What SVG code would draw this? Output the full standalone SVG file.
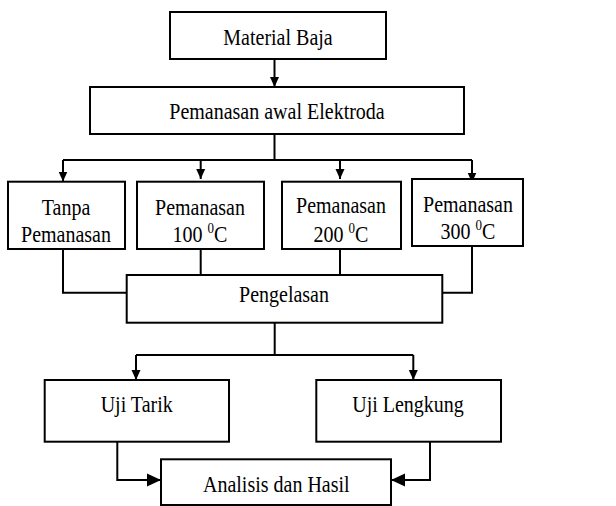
<svg xmlns="http://www.w3.org/2000/svg" width="616" height="506" viewBox="0 0 616 506">
<style>
.box{fill:#fff;stroke:#000;stroke-width:2}
.ln{fill:none;stroke:#000;stroke-width:2}
text{font-family:"Liberation Serif","Times New Roman",serif;font-size:20px;fill:#000;text-anchor:middle}
.sup{font-size:13px}
</style>
<defs>
<marker id="ah" markerUnits="userSpaceOnUse" markerWidth="10" markerHeight="10" refX="10" refY="5" orient="auto">
<path d="M0,0.5 L10,5 L0,9.5 Z" fill="#000"/>
</marker>
<marker id="ahb" markerUnits="userSpaceOnUse" markerWidth="14" markerHeight="14" refX="14" refY="7" orient="auto">
<path d="M0,0.5 L14,7 L0,13.5 Z" fill="#000"/>
</marker>
</defs>
<g id="connectors">
<path class="ln" d="M274.5,59 V87" marker-end="url(#ah)"/>
<path class="ln" d="M274.5,134 V160"/>
<path class="ln" d="M63,160 H472"/>
<path class="ln" d="M63,160 V181.5" marker-end="url(#ah)"/>
<path class="ln" d="M200.7,160 V179" marker-end="url(#ah)"/>
<path class="ln" d="M340,160 V179" marker-end="url(#ah)"/>
<path class="ln" d="M472,160 V182.5" marker-end="url(#ah)"/>
<path class="ln" d="M63,249 V292.7 H126.7"/>
<path class="ln" d="M200.7,249 V275"/>
<path class="ln" d="M340,249 V275"/>
<path class="ln" d="M472,246 V292.7 H442.3"/>
<path class="ln" d="M274.7,322.7 V355"/>
<path class="ln" d="M136,355 H413.3"/>
<path class="ln" d="M136,355 V380" marker-end="url(#ah)"/>
<path class="ln" d="M413.3,355 V380" marker-end="url(#ah)"/>
<path class="ln" d="M117.3,441.7 V480 H161" marker-end="url(#ahb)"/>
<path class="ln" d="M430,441.7 V480 H391" marker-end="url(#ahb)"/>
</g>
<g id="material-baja">
<rect class="box" x="170" y="12" width="216" height="47"/>
<text transform="translate(278,45) scale(1,1.15)">Material Baja</text>
</g>
<g id="pemanasan-awal">
<rect class="box" x="90" y="87" width="374" height="47"/>
<text transform="translate(277,119.3) scale(1,1.15)">Pemanasan awal Elektroda</text>
</g>
<g id="tanpa">
<rect class="box" x="8" y="181.7" width="117" height="67.3"/>
<text transform="translate(66,215) scale(1,1.15)">Tanpa</text>
<text transform="translate(66,241.7) scale(1,1.15)">Pemanasan</text>
</g>
<g id="p100">
<rect class="box" x="137" y="181.7" width="127" height="67.3"/>
<text transform="translate(200,215) scale(1,1.15)">Pemanasan</text>
<text transform="translate(200,241.7) scale(1,1.15)">100 <tspan class="sup" dy="-8">0</tspan><tspan dy="8">C</tspan></text>
</g>
<g id="p200">
<rect class="box" x="282" y="181.7" width="119" height="67.3"/>
<text transform="translate(341,212.7) scale(1,1.15)">Pemanasan</text>
<text transform="translate(341,241.7) scale(1,1.15)">200 <tspan class="sup" dy="-8">0</tspan><tspan dy="8">C</tspan></text>
</g>
<g id="p300">
<rect class="box" x="412" y="179" width="111" height="67"/>
<text transform="translate(468,211.7) scale(1,1.15)">Pemanasan</text>
<text transform="translate(468,239) scale(1,1.15)">300 <tspan class="sup" dy="-8">0</tspan><tspan dy="8">C</tspan></text>
</g>
<g id="pengelasan">
<rect class="box" x="126.7" y="275" width="315.6" height="47.7"/>
<text transform="translate(284,301.7) scale(1,1.15)">Pengelasan</text>
</g>
<g id="uji-tarik">
<rect class="box" x="44.7" y="380" width="184.3" height="61.7"/>
<text transform="translate(136.7,411.7) scale(1,1.15)">Uji Tarik</text>
</g>
<g id="uji-lengkung">
<rect class="box" x="316.3" y="380" width="184.7" height="61.7"/>
<text transform="translate(408,411.7) scale(1,1.15)">Uji Lengkung</text>
</g>
<g id="analisis">
<rect class="box" x="161" y="459.3" width="230" height="45.7"/>
<text transform="translate(276.3,491.7) scale(1,1.15)">Analisis dan Hasil</text>
</g>
</svg>
